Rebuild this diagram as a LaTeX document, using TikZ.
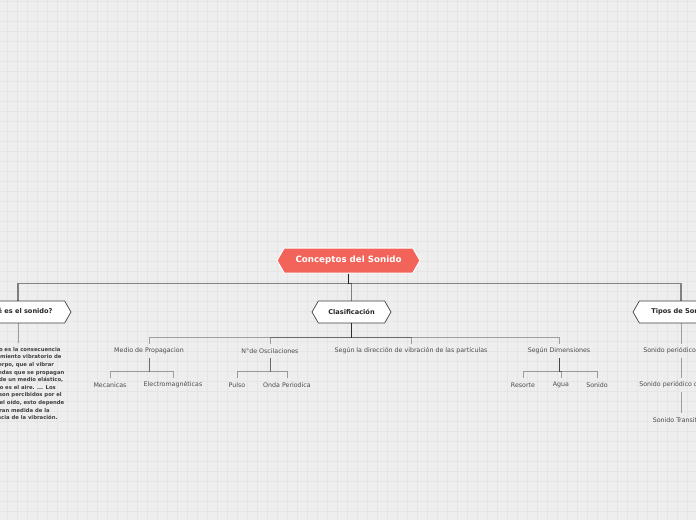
\documentclass[tikz,border=0pt]{standalone}
\usepackage{fontspec}
\setmainfont{DejaVu Sans}
\usetikzlibrary{shapes.symbols}
\definecolor{bg}{HTML}{EEEEEE}
\definecolor{gridc}{HTML}{E5E5E5}
\definecolor{rootc}{HTML}{F2645A}
\tikzset{
 hexroot/.style={shape=signal, signal to=west and east, signal pointer angle=120, fill=rootc, draw=white, line width=1pt, text=white, font=\fontsize{8.7}{10}\selectfont\bfseries, minimum width=143pt, minimum height=25pt, inner sep=0pt},
 hexmain/.style={shape=signal, signal to=west and east, signal pointer angle=120, fill=white, draw=black!75, line width=0.7pt, text=black!85, font=\fontsize{6.6}{8}\selectfont\bfseries, minimum height=22pt, inner sep=0pt},
 leaf/.style={text=black!70, font=\fontsize{6.3}{7}\selectfont, minimum height=14pt, inner sep=0pt},
 para/.style={text=black!75, font=\fontsize{5.3}{7.6}\selectfont\bfseries, align=center, inner xsep=0pt, inner ysep=4pt},
 trunk/.style={draw=black, draw opacity=0.45, line width=1.2pt},
 branch/.style={draw=black, draw opacity=0.33, line width=0.9pt},
}
\begin{document}
\begin{tikzpicture}[x=1pt, y=-1pt]
\useasboundingbox (0,0) rectangle (696,520);
\clip (0,0) rectangle (696,520);
\fill[bg] (0,0) rectangle (696,520);
\foreach \x in {7,17,...,697} \draw[gridc, line width=0.6pt] (\x,0) -- (\x,520);
\foreach \y in {1,11,...,521} \draw[gridc, line width=0.6pt] (0,\y) -- (696,\y);

% nodes
\node[hexroot] (root) at (348.5,260.5) {Conceptos del Sonido};
\node[hexmain, minimum width=106pt] (que) at (18,312) {¿Qué es el sonido?};
\node[hexmain, minimum width=79pt] (clas) at (351.5,312) {Clasificación};
\node[hexmain, minimum width=96pt] (tipos) at (681,312) {Tipos de Sonido};

\node[para, anchor=north] (parr) at (18,343) {El sonido es la consecuencia\\del movimiento vibratorio de\\un cuerpo, que al vibrar\\genera ondas que se propagan\\a través de un medio elástico,\\como lo es el aire. ... Los\\sonidos son percibidos por el\\sentido del oído, esto depende\\en gran medida de la\\frecuencia de la vibración.};

\node[leaf] (medio) at (149,351) {Medio de Propagacion};
\node[leaf] (osc) at (270,351) {N°de Oscilaciones};
\node[leaf] (dir) at (411,351) {Según la dirección de vibración de las partículas};
\node[leaf] (dim) at (559,351) {Según Dimensiones};

\node[leaf] (mec) at (110,385) {Mecanicas};
\node[leaf] (elec) at (173,385) {Electromagnéticas};
\node[leaf] (pulso) at (237,385) {Pulso};
\node[leaf] (onda) at (287,385) {Onda Periodica};
\node[leaf] (res) at (523,385) {Resorte};
\node[leaf] (agua) at (561,385) {Agua};
\node[leaf] (son) at (597,385) {Sonido};

\node[leaf] (sps) at (681,351) {Sonido periódico simple};
\node[leaf] (spc) at (681,385) {Sonido periódico complejo};
\node[leaf] (st) at (681,420) {Sonido Transitorio};

% connectors
\foreach \c in {que,clas,tipos} \draw[trunk] (root.south) -- ++(0,10) -| (\c.north);
\foreach \c in {medio,osc,dir,dim} \draw[branch] (clas.south) -- ++(0,14) -| (\c.north);
\foreach \c in {mec,elec} \draw[branch] (medio.south) -- ++(0,13) -| (\c.north);
\foreach \c in {pulso,onda} \draw[branch] (osc.south) -- ++(0,13) -| (\c.north);
\foreach \c in {res,agua,son} \draw[branch] (dim.south) -- ++(0,13) -| (\c.north);
\draw[branch] (que.south) -- (parr.north);
\draw[branch] (tipos.south) -- (sps.north);
\draw[branch] (sps.south) -- (spc.north);
\draw[branch] (spc.south) -- (st.north);
\end{tikzpicture}
\end{document}
